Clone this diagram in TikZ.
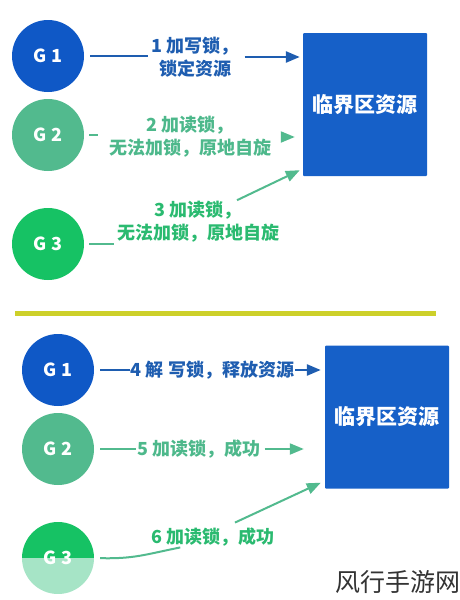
\documentclass[tikz,border=0pt]{standalone}
\usepackage{fontspec}
\setmainfont{Noto Sans CJK SC}
\usepackage{tikz}
\usetikzlibrary{arrows.meta, positioning, calc}
\definecolor{lockBlue}{HTML}{0F58C6}
\definecolor{boxBlue}{HTML}{1660C8}
\definecolor{readGreen}{HTML}{52BA8E}
\definecolor{spinGreen}{HTML}{16C264}
\definecolor{paleGreen}{HTML}{A6E4C6}
\definecolor{barYellow}{HTML}{CDD02A}
\definecolor{textBlue}{HTML}{1E5DB0}
\definecolor{textGreen}{HTML}{4DB88B}
\definecolor{textGreenB}{HTML}{2ABA70}

\begin{document}
\begin{tikzpicture}[x=1pt, y=-1pt, >={Triangle[length=14pt,width=11pt]},
    gnode/.style={circle, minimum size=72pt, inner sep=0pt, text=white,
        font=\fontsize{18}{20}\selectfont\bfseries},
    resbox/.style={fill=boxBlue, minimum width=124pt, minimum height=143pt,
        text=white, rounded corners=1pt, font=\fontsize{21}{24}\selectfont\bfseries},
    msg/.style={align=center, inner sep=1pt, font=\fontsize{18}{23}\selectfont\bfseries},
    blueline/.style={draw=textBlue, line width=2.6pt},
    greenline/.style={draw=readGreen, line width=2pt}]
    \useasboundingbox (0,0) rectangle (460,600);

    \node[gnode, fill=lockBlue] (g1) at (48,56) {G 1};
    \node[gnode, fill=readGreen] (g2) at (48,135) {G 2};
    \node[gnode, fill=spinGreen] (g3) at (48,244) {G 3};
    \node[resbox] (box1) at (365,104.5) {临界区资源};

    \node[msg, text=textBlue] (t1) at (195,57) {1 加写锁，\\锁定资源};
    \node[msg, text=textGreen] (t2) at (190,137) {2 加读锁，\\无法加锁，原地自旋};
    \node[msg, text=textGreenB] (t3) at (198,222) {3 加读锁，\\无法加锁，原地自旋};

    \draw[blueline, shorten <=6pt, shorten >=2pt] (g1.east) -- (g1.east -| t1.west);
    \draw[blueline, ->, shorten <=5pt, shorten >=3pt] (t1.east) -- (t1.east -| box1.west);
    \draw[greenline, shorten <=5pt, shorten >=10pt] (g2.east) -- (g2.east -| t2.west);
    \draw[greenline, ->, shorten <=10pt, shorten >=8pt] (t2.east) -- (t2.east -| box1.west);
    \draw[greenline, shorten <=5pt, shorten >=2pt] (g3.east) -- (g3.east -| t3.west);
    \draw[greenline, ->] ($(t3.north)+(39,0)$) -- ($(box1.south west)+(-3,-6)$);

    \draw[barYellow, line width=5pt] (15,313) -- (436,313);

    \node[gnode, fill=lockBlue] (g1b) at (58,370) {G 1};
    \node[gnode, fill=readGreen] (g2b) at (58,449) {G 2};
    \node[gnode, path picture={
        \fill[spinGreen] (path picture bounding box.north west) rectangle (path picture bounding box.east);
        \fill[paleGreen] (path picture bounding box.west) rectangle (path picture bounding box.south east);
    }] (g3b) at (58,558) {G 3};
    \node[resbox] (box2) at (387,417) {临界区资源};

    \node[msg, text=textBlue] (t4) at (212.5,370) {4 解 写锁，释放资源};
    \node[msg, text=textGreen] (t5) at (199,449) {5 加读锁，成功};
    \node[msg, text=textGreenB] (t6) at (213,537) {6 加读锁，成功};
    \coordinate (c6) at ($(t6.south west)+(30,0)$);

    \draw[blueline, shorten <=6pt] (g1b.east) -- (g1b.east -| t4.west);
    \draw[blueline, ->, shorten >=4pt] (t4.east) -- (t4.east -| box2.west);
    \draw[greenline, shorten <=6pt] (g2b.east) -- (g2b.east -| t5.west);
    \draw[greenline, ->, shorten <=3pt, shorten >=21pt] (t5.east) -- (t5.east -| box2.west);
    \draw[greenline, shorten <=6pt] (g3b.east) .. controls +(40,1) and +(-35,7) .. (c6);
    \draw[greenline, ->] ($(t6.north)+(22,-4)$) -- ($(box2.south west)+(-4,-6)$);

    \node[text=black!80, font=\fontsize{25}{28}\selectfont] (mark) at (398,582) {风行手游网};
\end{tikzpicture}
\end{document}
